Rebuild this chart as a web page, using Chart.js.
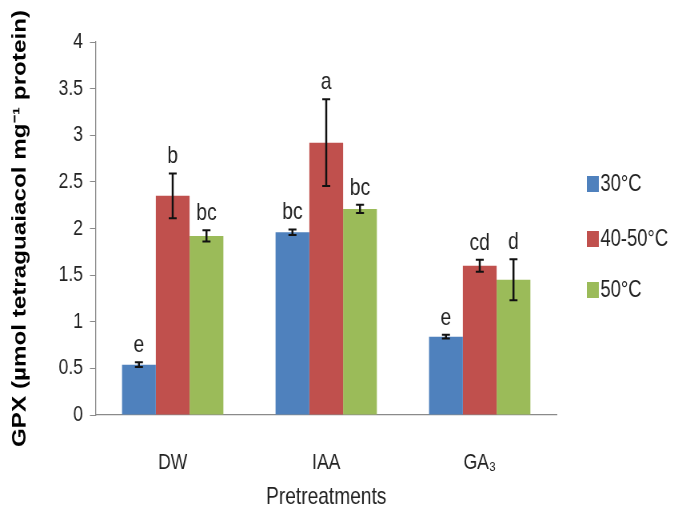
<!DOCTYPE html>
<html>
<head>
<meta charset="utf-8">
<script src="https://cdn.jsdelivr.net/npm/chart.js@4/dist/chart.umd.min.js"></script>
<style>
html,body{margin:0;padding:0;background:#fff;overflow:hidden;}
#c{display:block;width:682px;height:513px;}
</style>
</head>
<body>
<canvas id="c" width="853" height="513" style="width:682px;height:513px;"></canvas>
<script>
const categories = ['DW', 'IAA', 'GA\u2083'];
const seriesNames = ['30\u00B0C', '40-50\u00B0C', '50\u00B0C'];
const values30 = [0.54, 1.96, 0.84];
const values4050 = [2.35, 2.92, 1.60];
const values50 = [1.92, 2.21, 1.45];
const err30 = [0.025, 0.03, 0.02];
const err4050 = [0.24, 0.465, 0.065];
const err50 = [0.06, 0.045, 0.22];
const letters30 = ['e', 'bc', 'e'];
const letters4050 = ['b', 'a', 'cd'];
const letters50 = ['bc', 'bc', 'd'];
const yTicks = [0, 0.5, 1, 1.5, 2, 2.5, 3, 3.5, 4];
const yTitle = 'GPX (\u00B5mol tetraguaiacol mg\u207B\u00B9 protein)';
const xTitle = 'Pretreatments';

const colors = ['#4F81BD', '#C0504D', '#9BBB59'];
const FONT = '"Liberation Sans", Arial, sans-serif';
const errs = [err30, err4050, err50];
const letterSets = [letters30, letters4050, letters50];

const overlay = {
  id: 'overlay',
  afterDatasetsDraw(chart) {
    const ctx = chart.ctx;
    const ys = chart.scales.y;
    ctx.save();
    chart.data.datasets.forEach((ds, i) => {
      const meta = chart.getDatasetMeta(i);
      meta.data.forEach((bar, j) => {
        const v = ds.data[j], e = errs[i][j];
        const x = bar.x;
        const yt = ys.getPixelForValue(v + e);
        const yb = ys.getPixelForValue(v - e);
        ctx.strokeStyle = '#111';
        ctx.lineWidth = 2.5;
        ctx.beginPath();
        ctx.moveTo(x, yt); ctx.lineTo(x, yb);
        ctx.stroke();
        ctx.lineWidth = 2;
        ctx.beginPath();
        ctx.moveTo(x - 5, yt); ctx.lineTo(x + 5, yt);
        ctx.moveTo(x - 5, yb); ctx.lineTo(x + 5, yb);
        ctx.stroke();
        ctx.fillStyle = '#222';
        ctx.font = '24px ' + FONT;
        ctx.textAlign = 'center';
        ctx.textBaseline = 'alphabetic';
        ctx.fillText(letterSets[i][j], x, yt - 10);
      });
    });
    // legend
    const legY = [184, 239, 290];
    chart.data.datasets.forEach((ds, i) => {
      ctx.fillStyle = ds.backgroundColor;
      ctx.fillRect(734, legY[i] - 8, 15, 16);
      ctx.fillStyle = '#222';
      ctx.font = '23px ' + FONT;
      ctx.textAlign = 'left';
      ctx.textBaseline = 'middle';
      ctx.fillText(ds.label, 751, legY[i] + 1);
    });
    // y title
    ctx.font = 'bold 23px ' + FONT;
    const w = ctx.measureText(yTitle).width;
    ctx.translate(32, 228.5);
    ctx.rotate(-Math.PI / 2);
    ctx.scale(437 / w, 1);
    ctx.fillStyle = '#000';
    ctx.textAlign = 'center';
    ctx.textBaseline = 'alphabetic';
    ctx.fillText(yTitle, 0, 0);
    ctx.restore();
  }
};

new Chart(document.getElementById('c'), {
  type: 'bar',
  data: {
    labels: categories,
    datasets: [values30, values4050, values50].map((d, i) => ({
      label: seriesNames[i],
      data: d,
      backgroundColor: colors[i],
      borderWidth: 0,
      categoryPercentage: 0.66,
      barPercentage: 1.0
    }))
  },
  options: {
    responsive: false,
    animation: false,
    devicePixelRatio: 1,
    layout: { padding: { top: 42, right: 157, left: 0, bottom: 0 } },
    plugins: { legend: { display: false }, tooltip: { enabled: false } },
    scales: {
      x: {
        grid: { display: false, drawTicks: false },
        border: { display: true, color: '#8a8a8a', width: 1.3 },
        ticks: { color: '#222', font: { family: FONT, size: 22 }, padding: 35 },
        title: { display: true, text: xTitle, color: '#222', font: { family: FONT, size: 24 }, padding: { top: 0, bottom: 1 } },
        afterFit(s) { s.height = 98; }
      },
      y: {
        min: 0, max: 4,
        afterBuildTicks(s) { s.ticks = yTicks.map(v => ({ value: v })); },
        grid: { display: true, drawOnChartArea: false, drawTicks: true, tickLength: 7.5, color: '#8a8a8a', lineWidth: 1 },
        border: { display: true, color: '#8a8a8a', width: 1.3 },
        ticks: { color: '#222', font: { family: FONT, size: 22 }, padding: 8.75, callback: v => String(Number(v)) },
        afterFit(s) { s.width = 120; }
      }
    }
  },
  plugins: [overlay]
});
</script>
</body>
</html>
